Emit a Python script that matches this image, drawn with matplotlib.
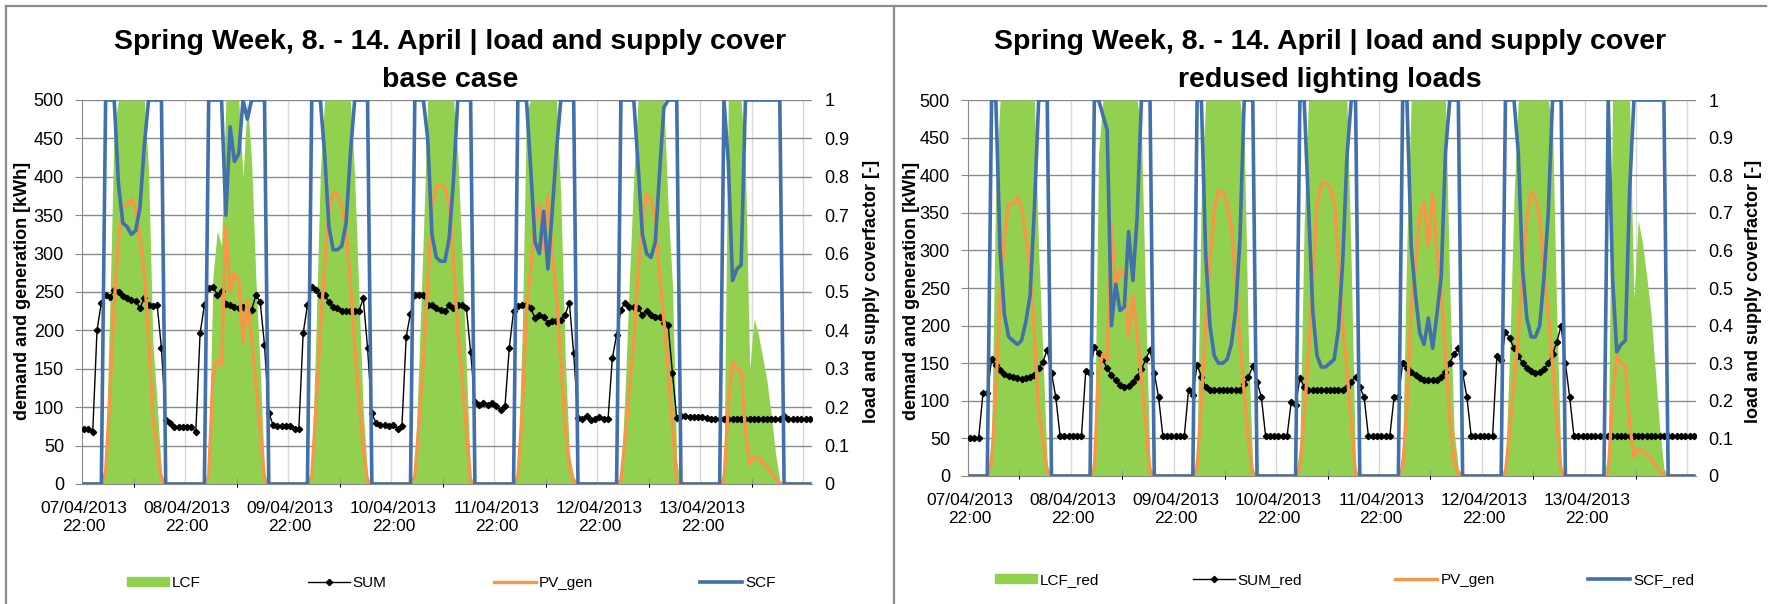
""" Load and supply cover factors, spring week, base case vs reduced lighting
"""

import numpy as np
import matplotlib
matplotlib.use('Agg')
import matplotlib.pyplot as plt
import matplotlib.patches as mpatches

from matplotlib.lines import Line2D

plt.rcParams['font.family'] = ['Liberation Sans', 'DejaVu Sans']

# hourly values, one row per day (last row is 26 h long)
pv_gen = [
    0, 0, 0, 0, 0, 15, 115, 235, 320, 362, 362, 372, 358, 320, 275, 190, 85, 48, 5, 0, 0, 0, 0, 0,
    0, 0, 0, 0, 0, 10, 140, 162, 155, 335, 250, 275, 265, 185, 240, 190, 130, 70, 5, 0, 0, 0, 0, 0,
    0, 0, 0, 0, 0, 10, 100, 200, 285, 355, 380, 378, 362, 330, 262, 180, 110, 45, 3, 0, 0, 0, 0, 0,
    0, 0, 0, 0, 0, 10, 80, 160, 260, 360, 388, 390, 385, 365, 290, 200, 140, 70, 3, 0, 0, 0, 0, 0,
    0, 0, 0, 0, 0, 10, 90, 225, 280, 345, 364, 305, 375, 300, 245, 160, 75, 20, 3, 0, 0, 0, 0, 0,
    0, 0, 0, 0, 0, 5, 60, 125, 185, 275, 340, 378, 370, 345, 270, 215, 150, 75, 5, 0, 0, 0, 0, 0,
    0, 0, 0, 0, 0, 3, 100, 160, 150, 147, 70, 25, 36, 33, 28, 23, 15, 7, 1, 0, 0, 0, 0, 0, 0, 0,
]

sum_base = [
    72, 72, 68, 200, 236, 246, 244, 252, 250, 245, 242, 240, 238, 229, 242, 233, 232, 233, 177, 83, 79, 74, 74, 74,
    74, 74, 68, 196, 233, 255, 257, 246, 251, 235, 233, 231, 229, 231, 227, 227, 246, 237, 181, 92, 77, 75, 75, 75,
    75, 72, 72, 196, 233, 257, 253, 246, 246, 237, 231, 229, 225, 225, 225, 225, 225, 242, 177, 92, 79, 77, 77, 75,
    77, 72, 75, 192, 222, 246, 246, 246, 233, 233, 229, 227, 225, 233, 229, 233, 233, 229, 172, 107, 103, 105, 103, 105,
    101, 96, 101, 177, 225, 232, 233, 233, 229, 216, 220, 218, 209, 212, 212, 214, 220, 236, 170, 86, 84, 88, 83, 84,
    87, 84, 84, 164, 194, 227, 236, 231, 231, 229, 220, 225, 220, 218, 218, 210, 207, 144, 86, 88, 88, 87, 87, 87,
    87, 86, 84, 84, 84, 84, 84, 84, 84, 84, 84, 84, 84, 84, 84, 84, 84, 84, 84, 88, 84, 84, 84, 84, 84, 84,
]

lcf_base = [
    0, 0, 0, 0, 0, .06, .47, .93, 1, 1, 1, 1, 1, 1, 1, .82, .37, .21, .03, 0, 0, 0, 0, 0,
    0, 0, 0, 0, 0, .04, .54, .66, .62, 1, 1, 1, 1, .80, 1, .84, .53, .30, .03, 0, 0, 0, 0, 0,
    0, 0, 0, 0, 0, .04, .40, .81, 1, 1, 1, 1, 1, 1, 1, .80, .49, .19, .02, 0, 0, 0, 0, 0,
    0, 0, 0, 0, 0, .04, .33, .65, 1, 1, 1, 1, 1, 1, 1, .86, .60, .31, .02, 0, 0, 0, 0, 0,
    0, 0, 0, 0, 0, .04, .39, .97, 1, 1, 1, 1, 1, 1, 1, .75, .34, .08, .02, 0, 0, 0, 0, 0,
    0, 0, 0, 0, 0, .02, .25, .54, .80, 1, 1, 1, 1, 1, 1, 1, .72, .52, .06, 0, 0, 0, 0, 0,
    0, 0, 0, 0, 0, .04, 1, 1, 1, 1, .83, .30, .43, .39, .33, .27, .18, .08, .01, 0, 0, 0, 0, 0, 0, 0,
]

scf_base = [
    0, 0, 0, 0, 0, 1, 1, 1, .78, .68, .67, .65, .66, .72, .88, 1, 1, 1, 1, 0, 0, 0, 0, 0,
    0, 0, 0, 0, 0, 1, 1, 1, 1, .70, .93, .84, .86, 1, .95, 1, 1, 1, 1, 0, 0, 0, 0, 0,
    0, 0, 0, 0, 0, 1, 1, 1, .86, .67, .61, .61, .62, .68, .86, 1, 1, 1, 1, 0, 0, 0, 0, 0,
    0, 0, 0, 0, 0, 1, 1, 1, .90, .65, .59, .58, .58, .64, .79, 1, 1, 1, 1, 0, 0, 0, 0, 0,
    0, 0, 0, 0, 0, 1, 1, 1, .82, .63, .60, .71, .56, .71, .87, 1, 1, 1, 1, 0, 0, 0, 0, 0,
    0, 0, 0, 0, 0, 1, 1, 1, 1, .83, .65, .60, .59, .63, .81, .98, 1, 1, 1, 0, 0, 0, 0, 0,
    0, 0, 0, 0, 0, 1, .84, .53, .56, .57, 1, 1, 1, 1, 1, 1, 1, 1, 1, 0, 0, 0, 0, 0, 0, 0,
]

sum_red = [
    51, 51, 51, 110, 110, 155, 147, 141, 136, 133, 131, 130, 129, 130, 131, 134, 143, 152, 168, 137, 105, 53, 53, 53,
    53, 53, 53, 140, 137, 172, 163, 155, 143, 134, 127, 121, 119, 120, 125, 132, 142, 155, 168, 137, 105, 53, 53, 53,
    53, 53, 53, 114, 108, 148, 132, 118, 114, 114, 114, 114, 114, 114, 114, 114, 122, 132, 146, 125, 105, 53, 53, 53,
    53, 53, 53, 99, 94, 130, 119, 115, 114, 114, 114, 114, 114, 114, 114, 114, 119, 125, 132, 118, 105, 53, 53, 53,
    53, 53, 53, 105, 105, 150, 143, 138, 134, 130, 128, 127, 127, 128, 131, 138, 150, 162, 170, 137, 105, 53, 53, 53,
    53, 53, 53, 159, 154, 192, 183, 170, 160, 150, 143, 139, 137, 138, 142, 150, 162, 178, 200, 150, 105, 53, 53, 53,
    53, 53, 53, 53, 53, 53, 53, 53, 53, 53, 53, 53, 53, 53, 53, 53, 53, 53, 53, 53, 53, 53, 53, 53, 53, 53,
]

lcf_red = [
    0, 0, 0, 0, 0, .10, .78, 1, 1, 1, 1, 1, 1, 1, 1, 1, .60, .32, .03, 0, 0, 0, 0, 0,
    0, 0, 0, 0, 0, .06, .86, 1, 1, 1, 1, 1, 1, 1, 1, 1, .92, .45, .03, 0, 0, 0, 0, 0,
    0, 0, 0, 0, 0, .07, .76, 1, 1, 1, 1, 1, 1, 1, 1, 1, .90, .34, .02, 0, 0, 0, 0, 0,
    0, 0, 0, 0, 0, .08, .67, 1, 1, 1, 1, 1, 1, 1, 1, 1, 1, .56, .02, 0, 0, 0, 0, 0,
    0, 0, 0, 0, 0, .07, .63, 1, 1, 1, 1, 1, 1, 1, 1, 1, .50, .12, .02, 0, 0, 0, 0, 0,
    0, 0, 0, 0, 0, .03, .33, .74, 1, 1, 1, 1, 1, 1, 1, 1, .93, .42, .03, 0, 0, 0, 0, 0,
    0, 0, 0, 0, 0, .06, 1, 1, 1, 1, 1, .47, .68, .62, .53, .43, .28, .13, .02, 0, 0, 0, 0, 0, 0, 0,
]

scf_red = [
    0, 0, 0, 0, 0, 1, 1, .60, .43, .37, .36, .35, .36, .41, .48, .71, 1, 1, 1, 0, 0, 0, 0, 0,
    0, 0, 0, 0, 0, 1, 1, .96, .92, .40, .51, .44, .45, .65, .52, .69, 1, 1, 1, 0, 0, 0, 0, 0,
    0, 0, 0, 0, 0, 1, 1, .59, .40, .32, .30, .30, .31, .35, .44, .63, 1, 1, 1, 0, 0, 0, 0, 0,
    0, 0, 0, 0, 0, 1, 1, .72, .44, .32, .29, .29, .30, .31, .39, .57, .85, 1, 1, 0, 0, 0, 0, 0,
    0, 0, 0, 0, 0, 1, 1, .61, .48, .38, .35, .42, .34, .43, .53, .86, 1, 1, 1, 0, 0, 0, 0, 0,
    0, 0, 0, 0, 0, 1, 1, 1, .86, .55, .42, .37, .37, .40, .53, .70, 1, 1, 1, 0, 0, 0, 0, 0,
    0, 0, 0, 0, 0, 1, .53, .33, .35, .36, .76, 1, 1, 1, 1, 1, 1, 1, 1, 0, 0, 0, 0, 0, 0, 0,
]

day_labels = ['07/04/2013\n22:00', '08/04/2013\n22:00', '09/04/2013\n22:00',
              '10/04/2013\n22:00', '11/04/2013\n22:00', '12/04/2013\n22:00',
              '13/04/2013\n22:00']

W, H = 1771, 604
GREEN = '#92D050'
ORANGE = '#F79646'
BLUE = '#4170AC'
GRID = '#8a8a8a'
VGRID = '#d9d9d9'


def _rect(x0, x1, y0, y1):
    return [x0 / W, 1 - y1 / H, (x1 - x0) / W, (y1 - y0) / H]


def plot_panel(fig, rect, load, lcf, scf, names, subtitle, cx, ylab_x, y2lab_x,
               leg_x, leg_y, colspacing):
    n = len(load)
    x = np.arange(n) + 0.5

    # bottom: grid + green area (secondary scale)
    axg = fig.add_axes(rect)
    axg.set_zorder(1)
    axg.set_xlim(0, n)
    axg.set_ylim(0, 1)
    for gx in range(12, n, 12):
        axg.axvline(gx, color=VGRID, lw=1, zorder=0)
    for gy in np.arange(0.1, 1.01, 0.1):
        axg.axhline(gy, color=GRID, lw=1, zorder=0)
    axg.fill_between(x, 0, lcf, color=GREEN, lw=0, zorder=1)
    axg.set_yticks([])
    axg.set_xticks(x[:24 * len(day_labels):24])
    axg.set_xticklabels(day_labels, fontsize=12.5, linespacing=1.25)
    axg.tick_params(axis='x', which='major', length=0, pad=12)
    axg.set_xticks(np.arange(12, n, 24), minor=True)
    axg.tick_params(axis='x', which='minor', length=4, direction='in', color=GRID)
    for side in ['top', 'right']:
        axg.spines[side].set_visible(False)
    for side in ['left', 'bottom']:
        axg.spines[side].set_color(GRID)

    # middle: load and PV (primary scale)
    ax1 = fig.add_axes(rect, sharex=axg)
    ax1.set_zorder(2)
    ax1.patch.set_visible(False)
    ax1.plot(x, load, color='black', lw=1, marker='D', ms=3.2)
    ax1.plot(x, pv_gen, color=ORANGE, lw=2.4)
    ax1.set_ylim(0, 500)
    ax1.set_yticks(np.arange(0, 501, 50))
    ax1.tick_params(axis='y', length=5, color=GRID, pad=8, labelsize=13)
    ax1.tick_params(axis='x', length=0, labelbottom=False)
    for spine in ax1.spines.values():
        spine.set_visible(False)

    # top: supply cover factor (secondary scale)
    axb = fig.add_axes(rect, sharex=axg)
    axb.set_zorder(3)
    axb.patch.set_visible(False)
    axb.plot(x, scf, color=BLUE, lw=2.6)
    axb.set_ylim(0, 1)
    axb.yaxis.tick_right()
    axb.set_yticks(np.arange(0, 1.01, 0.1))
    axb.set_yticklabels(['0'] + ['{:.1f}'.format(v) for v in np.arange(0.1, 0.95, 0.1)] + ['1'])
    axb.tick_params(axis='y', length=0, pad=9, labelsize=13)
    axb.tick_params(axis='x', length=0, labelbottom=False)
    for spine in axb.spines.values():
        spine.set_visible(False)

    fig.text(cx / W, 1 - 42 / H, 'Spring Week, 8. - 14. April | load and supply cover',
             ha='center', va='center', fontsize=20.5, weight='bold')
    fig.text(cx / W, 1 - 80 / H, subtitle, ha='center', va='center',
             fontsize=20.5, weight='bold')
    fig.text(ylab_x / W, 1 - 291 / H, 'demand and generation [kWh]', rotation=90,
             ha='center', va='center', fontsize=13, weight='bold')
    fig.text(y2lab_x / W, 1 - 291 / H, 'load and supply coverfactor [-]', rotation=90,
             ha='center', va='center', fontsize=13, weight='bold')

    handles = [mpatches.Patch(color=GREEN),
               Line2D([0], [0], color='black', lw=1, marker='D', ms=3.2),
               Line2D([0], [0], color=ORANGE, lw=2.4),
               Line2D([0], [0], color=BLUE, lw=2.6)]
    fig.legend(handles, names, loc='center left',
               bbox_to_anchor=(leg_x / W, 1 - leg_y / H), ncol=4, frameon=False,
               fontsize=11, handlelength=2.75, handletextpad=0.2,
               columnspacing=colspacing, borderpad=0, borderaxespad=0,
               handleheight=0.55)


fig = plt.figure(figsize=(W / 100, H / 100), dpi=100)

plot_panel(fig, _rect(82, 812, 100, 484), sum_base, lcf_base, scf_base,
           ['LCF', 'SUM', 'PV_gen', 'SCF'], 'base case', 450, 23, 871,
           127, 583, 7.0)
plot_panel(fig, _rect(968, 1696, 100, 476), sum_red, lcf_red, scf_red,
           ['LCF_red', 'SUM_red', 'PV_gen', 'SCF_red'], 'redused lighting loads',
           1330, 912, 1753, 995, 580, 6.1)

# panel frames
border = dict(transform=fig.transFigure, color='#8c8c8c', lw=1.6)
fig.add_artist(Line2D([6 / W, 1766 / W], [1 - 6 / H, 1 - 6 / H], **border))
fig.add_artist(Line2D([6 / W, 6 / W], [0, 1 - 6 / H], **border))
fig.add_artist(Line2D([894 / W, 894 / W], [0, 1 - 6 / H], **border))

fig.savefig('out.png', dpi=100)
